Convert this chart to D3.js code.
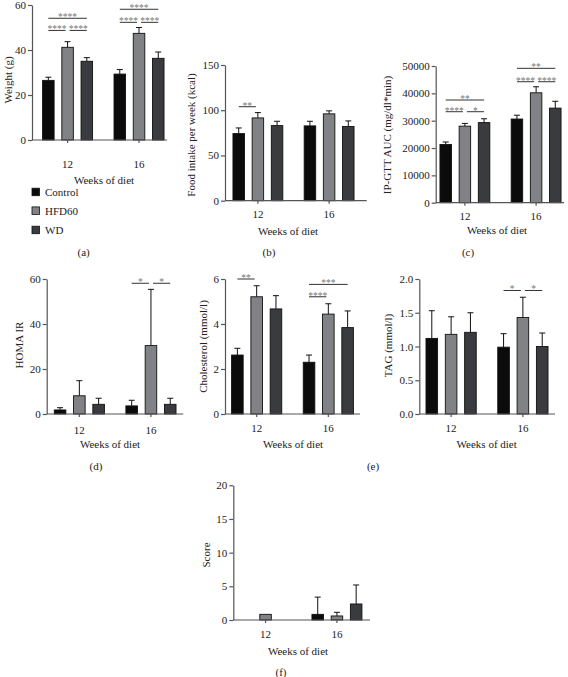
<!DOCTYPE html>
<html><head><meta charset="utf-8">
<script src="https://cdn.jsdelivr.net/npm/d3@7"></script>
<style>
body{margin:0;background:#fff;}
svg text{font-family:"Liberation Serif","DejaVu Serif",serif !important;fill:#222;}
</style></head>
<body><svg id="c" width="568" height="677"></svg>
<script>
// ---------- data ----------
const weeks = ["12", "16"];
const groups = ["Control", "HFD60", "WD"];

const weightMean = [[26.5, 41.2, 35.0], [29.3, 47.4, 36.3]];
const weightTop  = [[27.9, 43.7, 36.6], [31.3, 50.0, 39.1]];

const foodMean = [[74.2, 91.5, 83.0], [82.7, 96.0, 82.0]];
const foodTop  = [[80.4, 97.4, 87.8], [87.8, 99.3, 88.2]];

const gttMean = [[21300, 28000, 29300], [30600, 40200, 34600]];
const gttTop  = [[22200, 29000, 30700], [32000, 42400, 37100]];

const homaMean = [[1.8, 8.1, 4.3], [3.6, 30.4, 4.3]];
const homaTop  = [[2.8, 14.8, 7.0], [6.1, 55.4, 7.0]];

const cholMean = [[2.62, 5.21, 4.67], [2.30, 4.44, 3.84]];
const cholTop  = [[2.92, 5.70, 5.26], [2.62, 4.90, 4.58]];

const tagMean = [[1.12, 1.18, 1.21], [0.99, 1.43, 1.00]];
const tagTop  = [[1.53, 1.44, 1.50], [1.19, 1.73, 1.20]];

const scoreMean = [[0, 0.84, 0], [0.84, 0.60, 2.38]];
const scoreTop  = [[0, 0.84, 0], [3.40, 1.14, 5.20]];

const weightTicks = [0, 20, 40, 60];
const foodTicks = [0, 50, 100, 150];
const gttTicks = [0, 10000, 20000, 30000, 40000, 50000];
const homaTicks = [0, 20, 40, 60];
const cholTicks = [0, 2, 4, 6];
const tagTicks = [0, 0.5, 1.0, 1.5, 2.0];
const scoreTicks = [0, 5, 10, 15, 20];

// significance: [week, fromGroup, toGroup, level, label]
const weightSig = [["12",0,2,54.1,"****"],["12",0,1,48.7,"****"],["12",1,2,48.7,"****"],
                   ["16",0,2,58.1,"****"],["16",0,1,52.3,"****"],["16",1,2,52.3,"****"]];
const foodSig = [["12",0,1,103.9,"**"]];
const gttSig = [["12",0,2,37560,"**"],["12",0,1,33280,"****"],["12",1,2,33280,"*"],
                ["16",0,2,49150,"**"],["16",0,1,44250,"****"],["16",1,2,44250,"****"]];
const homaSig = [["16",0,1,58.1,"*"],["16",1,2,58.1,"*"]];
const cholSig = [["12",0,1,6.0,"**"],["16",0,2,5.76,"***"],["16",0,1,5.21,"****"]];
const tagSig = [["16",0,1,1.83,"*"],["16",1,2,1.83,"*"]];
const scoreSig = [];

const colors = {Control:"#0b0b0b", HFD60:"#818285", WD:"#3a3b3e"};
const axisColor = "#555";

// ---------- layout ----------
const panels = [
 {mean:weightMean, top:weightTop, ticks:weightTicks, sig:weightSig, ylab:"Weight (g)", fmt:d3.format("d"),
  x0:32, x1:167, yT:5, yB:140, bL:39, bR:167.6, tickY:164, tY:180, tX:104, yLX:7.5, yLY:80, letter:"(a)", lX:83.7, lY:252},
 {mean:foodMean, top:foodTop, ticks:foodTicks, sig:foodSig, ylab:"Food intake per week (kcal)", fmt:d3.format("d"),
  x0:225, x1:366.7, yT:65, yB:200.7, bL:229.4, bR:357.6, tickY:214.5, tY:231, tX:288, yLX:191, yLY:135, letter:"(b)", lX:269, lY:252},
 {mean:gttMean, top:gttTop, ticks:gttTicks, sig:gttSig, ylab:"IP-GTT AUC (mg/dl*min)", fmt:d3.format("d"),
  x0:435.7, x1:564, yT:66, yB:202.7, bL:436.4, bR:564.6, tickY:216.5, tY:230, tX:497, yLX:386.5, yLY:135, letter:"(c)", lX:468, lY:252},
 {mean:homaMean, top:homaTop, ticks:homaTicks, sig:homaSig, ylab:"HOMA IR", fmt:d3.format("d"),
  x0:46.7, x1:183.3, yT:279, yB:414, bL:50.7, bR:179.6, tickY:429.7, tY:444, tX:110, yLX:18.5, yLY:345, letter:"(d)", lX:96, lY:466},
 {mean:cholMean, top:cholTop, ticks:cholTicks, sig:cholSig, ylab:"Cholesterol (mmol/l)", fmt:d3.format("d"),
  x0:225, x1:360, yT:279, yB:414, bL:228, bR:357, tickY:428, tY:444, tX:293, yLX:202.5, yLY:346.5, letter:"(e)", lX:373, lY:466},
 {mean:tagMean, top:tagTop, ticks:tagTicks, sig:tagSig, ylab:"TAG (mmol/l)", fmt:d3.format(".1f"),
  x0:419.3, x1:555, yT:279, yB:414, bL:422.4, bR:551.6, tickY:428, tY:444, tX:486.7, yLX:387.5, yLY:345.5, letter:null},
 {mean:scoreMean, top:scoreTop, ticks:scoreTicks, sig:scoreSig, ylab:"Score", fmt:d3.format("d"),
  x0:233.3, x1:370, yT:485.3, yB:620, bL:237, bR:365.5, tickY:634.5, tY:651, tX:298, yLX:205.5, yLY:555, letter:"(f)", lX:281, lY:672}
];

const svg = d3.select("#c");
const FS = 11;

panels.forEach(p => {
  const g = svg.append("g");
  const y = d3.scaleLinear().domain([p.ticks[0], p.ticks[p.ticks.length-1]]).range([p.yB, p.yT]);
  const xw = d3.scaleBand().domain(weeks).range([p.bL, p.bR]).paddingInner(0.3).paddingOuter(0.05);
  const xs = d3.scaleBand().domain(groups).range([0, xw.bandwidth()]).paddingInner(0.4);
  const cx = (w, gi) => xw(w) + xs(groups[gi]) + xs.bandwidth()/2;

  weeks.forEach((w, wi) => {
    groups.forEach((gr, gi) => {
      const v = p.mean[wi][gi], t = p.top[wi][gi];
      const bx = xw(w) + xs(gr);
      if (t > v) {
        const c = bx + xs.bandwidth()/2;
        g.append("line").attr("x1", c).attr("x2", c).attr("y1", y(v)).attr("y2", y(t))
          .attr("stroke", "#111").attr("stroke-width", 1);
        g.append("line").attr("x1", c-3).attr("x2", c+3).attr("y1", y(t)).attr("y2", y(t))
          .attr("stroke", "#111").attr("stroke-width", 1);
      }
      if (v > 0) {
        g.append("rect").attr("x", bx).attr("y", y(v)).attr("width", xs.bandwidth())
          .attr("height", y(0) - y(v)).attr("fill", colors[gr]).attr("stroke", "#111").attr("stroke-width", 0.9);
      }
    });
  });

  const ya = g.append("g").attr("transform", `translate(${p.x0},0)`)
    .call(d3.axisLeft(y).tickValues(p.ticks).tickFormat(p.fmt).tickSize(4).tickSizeOuter(0).tickPadding(2));
  ya.attr("font-family", null);
  ya.selectAll("path,line").attr("stroke", axisColor).attr("stroke-width", 1.2);
  ya.selectAll("text").attr("font-size", FS).attr("fill", "#222");

  g.append("line").attr("x1", p.x0).attr("x2", p.x1).attr("y1", p.yB).attr("y2", p.yB)
    .attr("stroke", axisColor).attr("stroke-width", 1.2);
  const xa = g.append("g").attr("transform", `translate(0,${p.yB})`)
    .call(d3.axisBottom(xw).tickSize(3).tickPadding(p.tickY - p.yB - 3 - 4));
  xa.attr("font-family", null);
  xa.select(".domain").remove();
  xa.selectAll("line").attr("stroke", axisColor).attr("stroke-width", 1.2);
  xa.selectAll("text").attr("font-size", FS).attr("fill", "#222");

  g.append("text").attr("x", p.tX).attr("y", p.tY).attr("text-anchor", "middle")
    .attr("dominant-baseline", "central").attr("font-size", FS).text("Weeks of diet");
  g.append("text").attr("transform", `translate(${p.yLX},${p.yLY}) rotate(-90)`)
    .attr("text-anchor", "middle").attr("dominant-baseline", "central").attr("font-size", FS).text(p.ylab);
  if (p.letter) {
    g.append("text").attr("x", p.lX).attr("y", p.lY).attr("text-anchor", "middle")
      .attr("dominant-baseline", "central").attr("font-size", FS).text(p.letter);
  }

  p.sig.forEach(s => {
    const [w, a, b, lvl, lab] = s;
    let xa1 = cx(w, a), xb1 = cx(w, b);
    if (a === 1) xa1 += 2;
    if (b === 1) xb1 -= 2;
    const yy = y(lvl);
    g.append("line").attr("x1", xa1).attr("x2", xb1).attr("y1", yy).attr("y2", yy)
      .attr("stroke", "#333").attr("stroke-width", 1);
    g.append("text").attr("x", (xa1 + xb1)/2).attr("y", yy + 2).attr("text-anchor", "middle")
      .attr("font-size", 9.5).style("fill", "#777").text(lab);
  });
});

const legend = svg.append("g");
groups.forEach((gr, i) => {
  const ly = [192, 210.7, 230][i];
  legend.append("rect").attr("x", 32).attr("y", ly - 3.8).attr("width", 7.5).attr("height", 7.5)
    .attr("fill", colors[gr]).attr("stroke", "#111").attr("stroke-width", 0.8);
  legend.append("text").attr("x", 45).attr("y", ly).attr("dominant-baseline", "central")
    .attr("font-size", FS).text(gr);
});
</script></body></html>
